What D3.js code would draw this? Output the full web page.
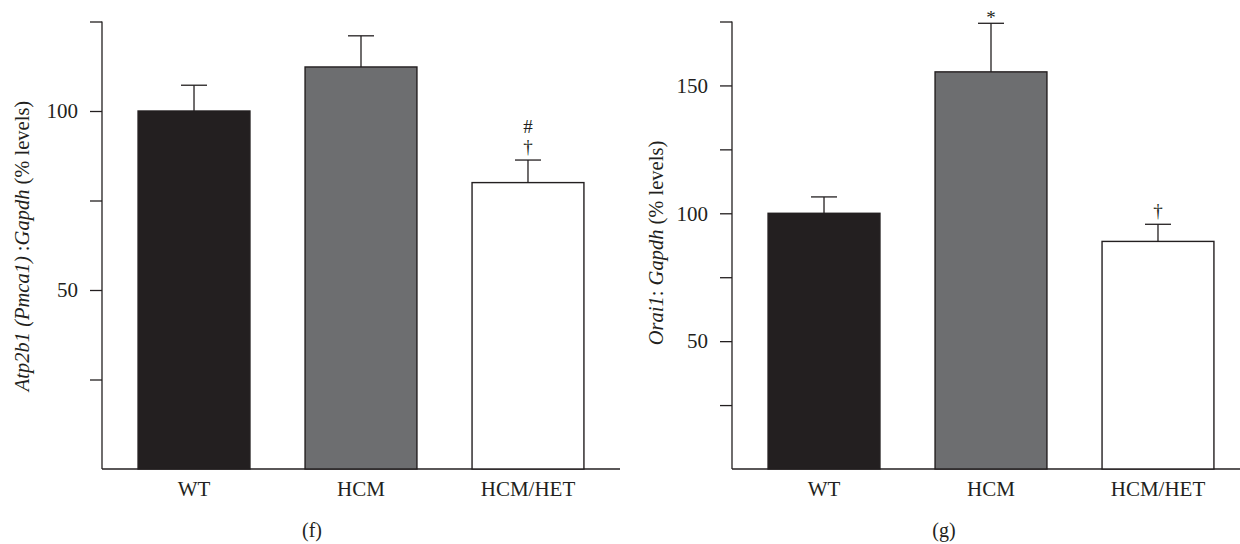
<!DOCTYPE html>
<html>
<head>
<meta charset="utf-8">
<script src="https://cdn.jsdelivr.net/npm/d3@7"></script>
<style>
  html, body { margin: 0; padding: 0; background: #fff; }
  svg { display: block; }
  text { font-family: "Liberation Serif", "Times New Roman", serif; fill: #231f20; }
</style>
</head>
<body>
<svg id="chart" width="1240" height="544"></svg>
<script>
// Group names shared by both panels
const categories = ["WT", "HCM", "HCM/HET"];

// Panel (f): Atp2b1 (Pmca1) : Gapdh, mean and SEM (% levels)
const pmcaMeans = [100, 112.3, 80];
const pmcaSem = [7.2, 8.7, 6.3];
const pmcaTicks = [25, 50, 75, 100, 125];
const pmcaTickLabels = ["", "50", "", "100", ""];
const pmcaMarks = [[], [], ["†", "#"]];

// Panel (g): Orai1 : Gapdh, mean and SEM (% levels)
const oraiMeans = [100, 155.3, 89];
const oraiSem = [6.4, 19, 6.7];
const oraiTicks = [25, 50, 75, 100, 125, 150, 175];
const oraiTickLabels = ["", "50", "", "100", "", "150", ""];
const oraiMarks = [[], ["*"], ["†"]];

const barFills = ["#231f20", "#6d6e70", "#ffffff"];
const ink = "#231f20";

const svg = d3.select("#chart");

function drawPanel(cfg) {
  const g = svg.append("g");
  const x = d3.scaleBand()
    .domain(categories)
    .range([cfg.left, cfg.left + 518])
    .paddingInner(0.33)
    .paddingOuter(0.216);
  const y = d3.scaleLinear()
    .domain([0, cfg.yMax])
    .range([469, 21.5]);

  // y axis
  const yAxis = d3.axisLeft(y)
    .tickValues(cfg.ticks)
    .tickSize(12)
    .tickPadding(12)
    .tickSizeOuter(0)
    .tickFormat((d, i) => cfg.tickLabels[i]);
  const ya = g.append("g")
    .attr("transform", `translate(${cfg.left},0)`)
    .call(yAxis);
  ya.select(".domain").attr("d", `M0,${y(cfg.yMax)}V${y(0)}`);
  ya.selectAll("path, line").attr("stroke", ink).attr("stroke-width", 1.3);
  ya.selectAll("text")
    .attr("font-size", 21)
    .attr("fill", ink)
    .style("font-family", '"Liberation Serif", serif');

  // x axis
  const xAxis = d3.axisBottom(x).tickSize(0).tickSizeOuter(0).tickPadding(12);
  const xa = g.append("g")
    .attr("transform", `translate(0,${y(0)})`)
    .call(xAxis);
  xa.select(".domain")
    .attr("d", `M${cfg.left},0H${cfg.axisEnd}`)
    .attr("stroke", ink).attr("stroke-width", 1.3);
  xa.selectAll("text")
    .attr("font-size", 21)
    .attr("fill", ink)
    .style("font-family", '"Liberation Serif", serif');

  // bars
  g.selectAll("rect.bar")
    .data(categories)
    .join("rect")
    .attr("class", "bar")
    .attr("x", d => x(d))
    .attr("width", x.bandwidth())
    .attr("y", (d, i) => y(cfg.means[i]))
    .attr("height", (d, i) => y(0) - y(cfg.means[i]))
    .attr("fill", (d, i) => barFills[i])
    .attr("stroke", ink)
    .attr("stroke-width", 1.4);

  // upper error bars
  const eb = g.selectAll("g.err")
    .data(categories)
    .join("g")
    .attr("class", "err")
    .attr("stroke", ink)
    .attr("stroke-width", 1.3);
  eb.append("line")
    .attr("x1", d => x(d) + x.bandwidth() / 2)
    .attr("x2", d => x(d) + x.bandwidth() / 2)
    .attr("y1", (d, i) => y(cfg.means[i]))
    .attr("y2", (d, i) => y(cfg.means[i] + cfg.sem[i]));
  eb.append("line")
    .attr("x1", d => x(d) + x.bandwidth() / 2 - 13)
    .attr("x2", d => x(d) + x.bandwidth() / 2 + 13)
    .attr("y1", (d, i) => y(cfg.means[i] + cfg.sem[i]))
    .attr("y2", (d, i) => y(cfg.means[i] + cfg.sem[i]));

  // significance symbols, stacked upward above each error bar
  categories.forEach((c, i) => {
    const top = y(cfg.means[i] + cfg.sem[i]);
    cfg.marks[i].forEach((m, k) => {
      const base = m === "*" ? top + 1 : top - 7 - k * 20;
      g.append("text")
        .attr("x", x(c) + x.bandwidth() / 2)
        .attr("y", base)
        .attr("text-anchor", "middle")
        .attr("font-size", 19)
        .text(m);
    });
  });

  // rotated y-axis title with italic gene names
  const t = g.append("text")
    .attr("transform", `translate(${cfg.titleX},${cfg.titleY}) rotate(-90)`)
    .attr("text-anchor", "middle")
    .attr("font-size", 20.5);
  cfg.title.forEach(([s, it]) => {
    t.append("tspan").attr("font-style", it ? "italic" : "normal").text(s);
  });

  // panel letter
  g.append("text")
    .attr("x", cfg.letterX)
    .attr("y", 537)
    .attr("text-anchor", "middle")
    .attr("font-size", 20)
    .text(cfg.letter);
}

drawPanel({
  left: 102, axisEnd: 620, yMax: 125,
  ticks: pmcaTicks, tickLabels: pmcaTickLabels,
  means: pmcaMeans, sem: pmcaSem, marks: pmcaMarks,
  title: [["Atp2b1", true], [" (Pmca1)", true], [" :", false], ["Gapdh", true], [" (% levels)", false]],
  titleX: 29, titleY: 246,
  letter: "(f)", letterX: 312
});

drawPanel({
  left: 732, axisEnd: 1240, yMax: 175,
  ticks: oraiTicks, tickLabels: oraiTickLabels,
  means: oraiMeans, sem: oraiSem, marks: oraiMarks,
  title: [["Orai1", true], [": ", false], ["Gapdh", true], [" (% levels)", false]],
  titleX: 663, titleY: 243,
  letter: "(g)", letterX: 944
});
</script>
</body>
</html>
